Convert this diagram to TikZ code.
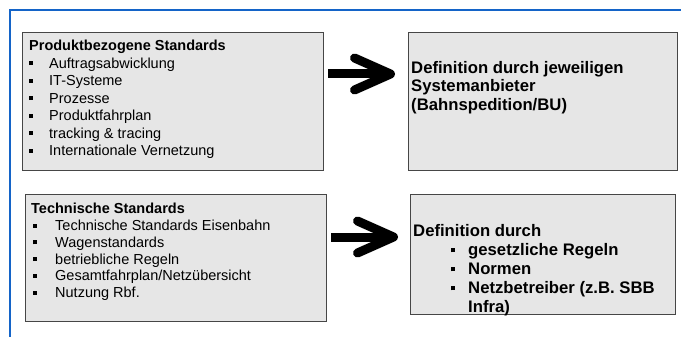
\documentclass[tikz,border=0pt]{standalone}
\usepackage{fontspec}
\setmainfont{Liberation Sans}
\usetikzlibrary{arrows.meta, positioning}
\definecolor{framecolor}{RGB}{20, 100, 200}
\definecolor{boxgray}{RGB}{230, 230, 230}
\definecolor{bordergray}{RGB}{70, 70, 70}
\newcommand{\sqbullet}[1]{\makebox[#1][l]{\rule[3pt]{4pt}{4pt}}}

\begin{document}
\begin{tikzpicture}[x=1pt, y=-1pt,
    stdbox/.style={draw=bordergray, fill=boxgray, line width=1pt, anchor=north west, inner sep=0pt},
    boxtext/.style={anchor=north west, inner sep=0pt, align=left},
    bigarrow/.style={line width=9pt, -{Straight Barb[round, length=36pt, width=32pt]}}
]
    \useasboundingbox (0,0) rectangle (681,337);
    % frame lines
    \draw[framecolor, line width=1.5pt] (10,337) -- (10,10) -- (681,10);

    % Boxes - top row
    \node[stdbox, minimum width=301pt, minimum height=138pt] (prod) at (22,32) {};
    \node[stdbox, minimum width=269pt, minimum height=138pt, right=84pt of prod] (sysdef) {};

    % Boxes - bottom row
    \node[stdbox, minimum width=301pt, minimum height=127pt, below=23pt of prod, xshift=3pt] (tech) {};
    \node[stdbox, minimum width=265pt, minimum height=120pt, right=83pt of tech, yshift=3.5pt] (techdef) {};

    % Texts
    \node[boxtext, font=\fontsize{14.5}{17.5}\selectfont] (prodtext) at ([xshift=7pt, yshift=-8pt]prod.north west) {%
        \textbf{Produktbezogene Standards}\\
        \sqbullet{20pt}Auftragsabwicklung\\
        \sqbullet{20pt}IT-Systeme\\
        \sqbullet{20pt}Prozesse\\
        \sqbullet{20pt}Produktfahrplan\\
        \sqbullet{20pt}tracking \& tracing\\
        \sqbullet{20pt}Internationale Vernetzung};
    \node[boxtext, font=\fontsize{16.7}{18.5}\selectfont\bfseries] (sysdeftext) at ([xshift=3pt, yshift=-29pt]sysdef.north west) {%
        Definition durch jeweiligen\\
        Systemanbieter\\
        (Bahnspedition/BU)};
    \node[boxtext, font=\fontsize{14.5}{16.8}\selectfont] (techtext) at ([xshift=6pt, yshift=-9pt]tech.north west) {%
        \textbf{Technische Standards}\\
        \hspace*{2pt}\sqbullet{22pt}Technische Standards Eisenbahn\\
        \hspace*{2pt}\sqbullet{22pt}Wagenstandards\\
        \hspace*{2pt}\sqbullet{22pt}betriebliche Regeln\\
        \hspace*{2pt}\sqbullet{22pt}Gesamtfahrplan/Netzübersicht\\
        \hspace*{2pt}\sqbullet{22pt}Nutzung Rbf.};
    \node[boxtext, font=\fontsize{16.7}{19}\selectfont\bfseries] (techdeftext) at ([xshift=3pt, yshift=-30pt]techdef.north west) {%
        Definition durch\\
        \hspace*{38pt}\sqbullet{17pt}gesetzliche Regeln\\
        \hspace*{38pt}\sqbullet{17pt}Normen\\
        \hspace*{38pt}\sqbullet{17pt}Netzbetreiber (z.B. SBB\\
        \hspace*{55pt}Infra)};

    % Arrows
    \draw[bigarrow, shorten <=4pt, shorten >=13pt] (prod.east |- 0,74) -- (sysdef.west |- 0,74);
    \draw[bigarrow, shorten <=4pt, shorten >=12pt] (tech.east |- 0,237) -- (techdef.west |- 0,237);
\end{tikzpicture}
\end{document}
